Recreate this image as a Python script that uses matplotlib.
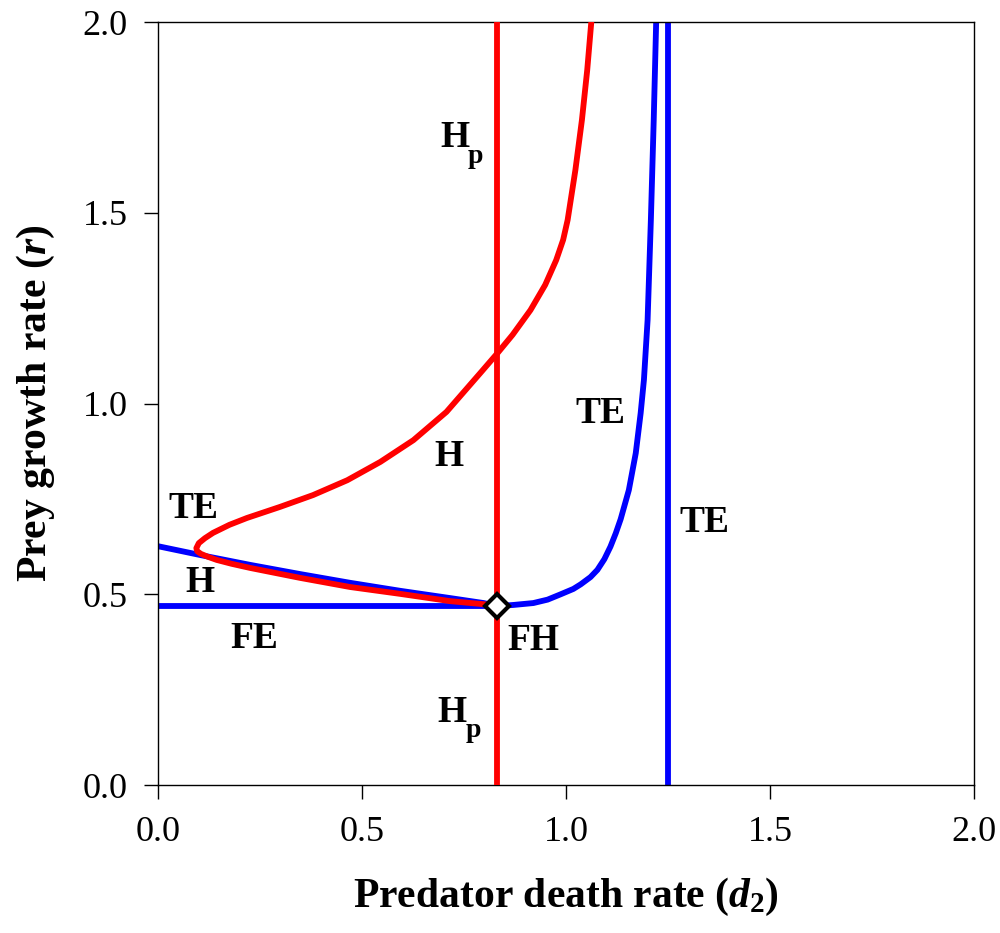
#!/usr/bin/env python3
"""
Bifurcation diagram in the (d2, r) plane: Hopf, transcritical, fold-Hopf.
"""
import numpy as np
import matplotlib
matplotlib.use("Agg")
import matplotlib.pyplot as plt

plt.rcParams['font.family'] = ['Liberation Serif', 'DejaVu Serif']
plt.rcParams['mathtext.fontset'] = 'custom'
plt.rcParams['mathtext.rm'] = 'Liberation Serif:bold'
plt.rcParams['mathtext.bf'] = 'Liberation Serif:bold'
plt.rcParams['mathtext.it'] = 'Liberation Serif:bold:italic'

# Predator Hopf (vertical) and transcritical (vertical) lines
hp_d2 = 0.832
te_d2 = 1.25

# Hopf curve H (red): from fold-Hopf point along lower branch, round the fold, up
hopf_d2 = [0.832, 0.798, 0.716, 0.594, 0.471, 0.348, 0.226, 0.180, 0.144, 0.123,
           0.105, 0.096, 0.094, 0.100, 0.115, 0.135, 0.175, 0.218, 0.299, 0.380,
           0.464, 0.545, 0.626, 0.707, 0.790, 0.832, 0.869, 0.913, 0.949, 0.976,
           0.993, 1.004, 1.023, 1.039, 1.052, 1.062]
hopf_r = [0.469, 0.474, 0.482, 0.501, 0.519, 0.543, 0.569, 0.580, 0.590, 0.598,
          0.606, 0.613, 0.621, 0.634, 0.647, 0.661, 0.682, 0.700, 0.729, 0.760,
          0.799, 0.847, 0.904, 0.978, 1.080, 1.132, 1.180, 1.245, 1.311, 1.376,
          1.429, 1.481, 1.612, 1.743, 1.874, 2.000]

# Transcritical curve TE (blue)
te_curve_d2 = [0.000, 0.103, 0.226, 0.348, 0.471, 0.594, 0.716, 0.798, 0.832,
               0.871, 0.920, 0.955, 0.987, 1.018, 1.036, 1.060, 1.077, 1.094,
               1.109, 1.122, 1.134, 1.154, 1.171, 1.183, 1.191, 1.200, 1.208,
               1.215, 1.221]
te_curve_r = [0.626, 0.603, 0.577, 0.553, 0.530, 0.509, 0.490, 0.477, 0.469,
              0.472, 0.477, 0.486, 0.500, 0.514, 0.526, 0.545, 0.564, 0.592,
              0.625, 0.660, 0.697, 0.773, 0.870, 0.975, 1.062, 1.219, 1.481,
              1.743, 2.000]

# Flat equilibrium line FE (blue)
fe_d2 = [0.0, 0.832]
fe_r = [0.470, 0.470]

# Fold-Hopf point
fh_d2 = 0.832
fh_r = 0.470

# Region labels
labels = ['H', 'TE', 'TE', 'TE', 'H', 'FE', 'FH']
label_d2 = [0.714, 1.085, 0.086, 1.34, 0.103, 0.236, 0.92]
label_r = [0.86, 0.975, 0.726, 0.687, 0.53, 0.385, 0.38]
# H_p labels (H centre; subscript p placed next to it)
hp_lab_d2 = [0.727, 0.721]
hp_lab_r = [1.696, 0.191]

fig = plt.figure(figsize=(10, 9.33), dpi=100)
ax = fig.add_axes([0.158, 0.1586, 0.816, 0.8178])

lw = 4.2
ax.plot(fe_d2, fe_r, color='#0000ff', lw=lw, solid_capstyle='butt', zorder=2)
ax.plot(te_curve_d2, te_curve_r, color='#0000ff', lw=lw, zorder=2,
        solid_joinstyle='round')
ax.axvline(te_d2, color='#0000ff', lw=lw, zorder=2)
ax.plot(hopf_d2, hopf_r, color='#ff0000', lw=lw, zorder=3,
        solid_joinstyle='round')
ax.axvline(hp_d2, color='#ff0000', lw=lw, zorder=3)
ax.plot([fh_d2], [fh_r], marker='D', ms=12, mfc='white', mec='black', mew=3,
        zorder=5, clip_on=False)

for txt, x, y in zip(labels, label_d2, label_r):
    ax.text(x, y, txt, fontsize=27, fontweight='bold', ha='center', va='center')

for x, y in zip(hp_lab_d2, hp_lab_r):
    ax.text(x, y, 'H', fontsize=27, fontweight='bold', ha='center', va='center')
    ax.annotate('p', xy=(x, y), xytext=(15, -13), textcoords='offset points',
                fontsize=20, fontweight='bold', ha='center', va='center')

ax.set_xlim(0, 2)
ax.set_ylim(0, 2)
ticks = [0.0, 0.5, 1.0, 1.5, 2.0]
ax.set_xticks(ticks)
ax.set_yticks(ticks)
ax.set_xticklabels([f'{t:.1f}' for t in ticks], fontsize=26)
ax.set_yticklabels([f'{t:.1f}' for t in ticks], fontsize=26)
ax.tick_params(direction='out', length=10, width=1, pad=12)
for s in ax.spines.values():
    s.set_linewidth(1)

ax.set_xlabel('Predator death rate ($d_2$)', fontsize=30, fontweight='bold',
              labelpad=20)
ax.set_ylabel('Prey growth rate ($r$)', fontsize=30, fontweight='bold',
              labelpad=18)

fig.savefig('out.png', dpi=100)
